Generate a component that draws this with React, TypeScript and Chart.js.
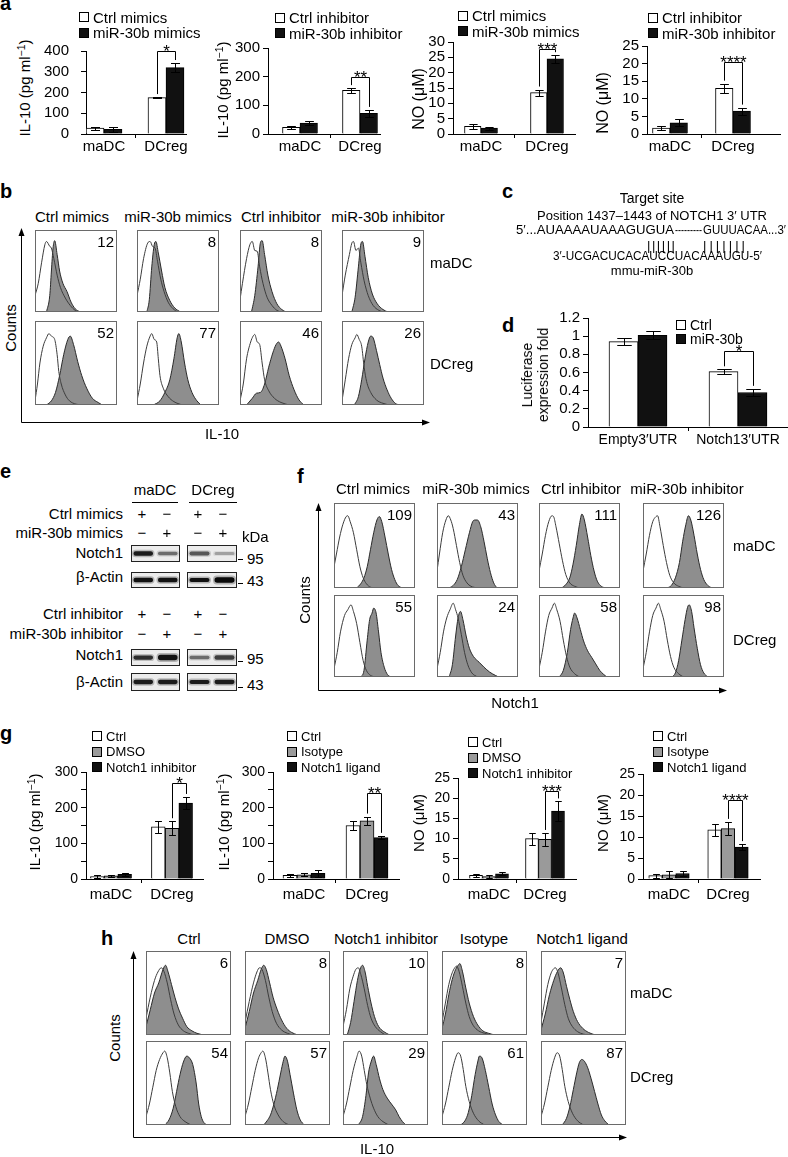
import React, { useEffect, useRef } from 'react';
import { Chart, registerables } from 'chart.js';

Chart.register(...registerables);
const FONT = '"Liberation Sans", Arial, Helvetica, sans-serif';
Chart.defaults.font.family = FONT;
Chart.defaults.color = '#000';

// ===================== DATA =====================
const GROUPS = ['maDC', 'DCreg'];
const ROWS = ['maDC', 'DCreg'];

// panel a
const A1_CTRL = [28, 175]; const A1_CTRL_ERR = [8, 3];
const A1_MIR = [22, 320]; const A1_MIR_ERR = [10, 22];
const A2_CTRL = [23, 152]; const A2_CTRL_ERR = [4, 8];
const A2_INH = [38, 72]; const A2_INH_ERR = [8, 12];
const A3_CTRL = [2.5, 13.5]; const A3_CTRL_ERR = [0.8, 1.0];
const A3_MIR = [1.9, 24.5]; const A3_MIR_ERR = [0.5, 1.2];
const A4_CTRL = [1.7, 13]; const A4_CTRL_ERR = [0.5, 1.3];
const A4_INH = [3.2, 6.5]; const A4_INH_ERR = [1.0, 1.0];

// panel d
const D_CATS = ['Empty3\u2032UTR', 'Notch13\u2032UTR'];
const D_CTRL = [0.94, 0.61]; const D_CTRL_ERR = [0.04, 0.025];
const D_MIR = [1.01, 0.38]; const D_MIR_ERR = [0.045, 0.04];

// panel g
const G1_CTRL = [7, 146]; const G1_CTRL_ERR = [5, 17];
const G1_DMSO = [9, 142]; const G1_DMSO_ERR = [3, 20];
const G1_INH = [13, 213]; const G1_INH_ERR = [4, 17];
const G2_CTRL = [10, 150]; const G2_CTRL_ERR = [4, 13];
const G2_ISO = [12, 163]; const G2_ISO_ERR = [4, 12];
const G2_LIG = [16, 116]; const G2_LIG_ERR = [9, 5];
const G3_CTRL = [0.9, 10]; const G3_CTRL_ERR = [0.4, 1.5];
const G3_DMSO = [0.6, 9.8]; const G3_DMSO_ERR = [0.3, 1.6];
const G3_INH = [1.3, 16.8]; const G3_INH_ERR = [0.4, 2.4];
const G4_CTRL = [0.8, 11.7]; const G4_CTRL_ERR = [0.5, 1.4];
const G4_ISO = [1.0, 12.0]; const G4_ISO_ERR = [0.8, 1.6];
const G4_LIG = [1.3, 7.6]; const G4_LIG_ERR = [0.6, 0.7];

// flow histograms: [x %, y %] points
type Pt = [number, number];
const B_HEADERS = ['Ctrl mimics', 'miR-30b mimics', 'Ctrl inhibitor', 'miR-30b inhibitor'];
const B_NUMS = [12, 8, 8, 9, 52, 77, 46, 26];
const B_OPEN: Pt[][] = [
  [[0, 20], [4, 35], [8, 60], [12, 82], [14, 86], [18, 80], [20, 78], [23, 65], [27, 45], [31, 30], [37, 17], [43, 8], [49, 2], [55, 0]],
  [[0, 20], [4, 40], [8, 65], [13, 84], [16, 86], [19, 80], [22, 78], [25, 62], [29, 40], [33, 25], [38, 12], [44, 4], [50, 0]],
  [[0, 15], [3, 35], [8, 65], [12, 82], [15, 86], [18, 75], [21, 74], [24, 55], [28, 35], [33, 18], [39, 8], [45, 2], [50, 0]],
  [[0, 20], [4, 45], [9, 70], [12, 84], [14, 86], [17, 75], [20, 78], [23, 60], [27, 38], [32, 20], [38, 8], [45, 2], [50, 0]],
  [[0, 5], [3, 25], [6, 50], [10, 70], [14, 80], [17, 85], [20, 82], [24, 78], [27, 60], [29, 40], [32, 25], [37, 12], [42, 5], [50, 1], [58, 0]],
  [[0, 5], [4, 25], [8, 50], [12, 70], [16, 82], [18, 85], [21, 78], [24, 75], [26, 55], [28, 35], [32, 20], [38, 10], [45, 4], [55, 0]],
  [[0, 5], [4, 25], [8, 55], [13, 75], [16, 82], [18, 84], [21, 75], [24, 72], [27, 50], [30, 30], [35, 17], [42, 8], [50, 3], [60, 0]],
  [[0, 5], [4, 30], [8, 55], [12, 72], [16, 80], [18, 84], [21, 78], [24, 70], [27, 45], [30, 28], [35, 15], [42, 6], [50, 2], [58, 0]],
];
const B_FILL: Pt[][] = [
  [[14, 0], [18, 20], [20, 50], [22, 78], [24, 87], [27, 70], [30, 50], [34, 35], [39, 25], [44, 12], [49, 4], [55, 0]],
  [[12, 0], [15, 15], [18, 55], [21, 82], [23, 86], [26, 72], [30, 50], [34, 30], [40, 14], [46, 5], [53, 0]],
  [[14, 0], [18, 20], [22, 55], [25, 85], [27, 87], [30, 70], [34, 45], [39, 25], [45, 10], [51, 3], [56, 0]],
  [[12, 0], [16, 18], [20, 55], [23, 83], [25, 86], [28, 68], [32, 42], [37, 22], [43, 10], [50, 3], [56, 0]],
  [[14, 0], [20, 5], [25, 15], [30, 35], [35, 60], [40, 78], [43, 82], [47, 72], [52, 52], [57, 35], [63, 20], [70, 8], [77, 3], [82, 0]],
  [[20, 0], [28, 5], [34, 15], [40, 30], [45, 55], [49, 80], [51, 85], [54, 75], [58, 50], [62, 30], [67, 15], [73, 5], [78, 0]],
  [[8, 0], [15, 8], [20, 14], [25, 15], [30, 25], [35, 45], [40, 62], [44, 72], [47, 75], [50, 70], [55, 55], [60, 35], [66, 18], [72, 6], [78, 0]],
  [[15, 0], [20, 10], [24, 30], [28, 55], [32, 75], [35, 82], [38, 80], [42, 65], [46, 48], [50, 32], [55, 18], [60, 8], [65, 2], [70, 0]],
];

const F_NUMS = [109, 43, 111, 126, 55, 24, 58, 98];
const F_OPEN: Pt[][] = [
  [[0, 25], [3, 40], [7, 60], [11, 75], [15, 84], [17, 85], [20, 78], [24, 65], [28, 45], [32, 25], [36, 12], [40, 5], [45, 1], [52, 0]],
  [[0, 20], [3, 40], [7, 65], [11, 80], [14, 85], [17, 80], [20, 70], [24, 50], [28, 30], [32, 15], [37, 6], [42, 2], [50, 0]],
  [[0, 20], [4, 40], [8, 62], [12, 78], [16, 85], [18, 84], [21, 72], [25, 52], [29, 32], [33, 16], [38, 6], [44, 2], [50, 0]],
  [[0, 20], [4, 40], [8, 62], [12, 78], [16, 84], [18, 85], [21, 72], [25, 50], [29, 30], [33, 15], [38, 6], [44, 2], [50, 0]],
  [[0, 10], [4, 30], [8, 55], [13, 75], [17, 82], [21, 88], [24, 80], [28, 65], [32, 42], [36, 20], [40, 8], [45, 2], [52, 0]],
  [[0, 10], [4, 30], [8, 55], [12, 72], [16, 82], [20, 90], [23, 82], [26, 72], [30, 52], [34, 30], [38, 15], [43, 5], [50, 0]],
  [[0, 10], [4, 30], [8, 55], [12, 75], [16, 84], [19, 90], [22, 82], [26, 68], [30, 45], [34, 25], [38, 12], [44, 4], [50, 0]],
  [[0, 10], [4, 30], [8, 55], [12, 75], [16, 84], [19, 90], [22, 82], [26, 68], [30, 45], [34, 25], [38, 12], [44, 4], [50, 0]],
];
const F_FILL: Pt[][] = [
  [[28, 0], [33, 5], [37, 12], [41, 25], [45, 45], [49, 65], [53, 80], [56, 84], [59, 78], [63, 60], [67, 40], [71, 22], [75, 10], [79, 3], [84, 0]],
  [[15, 0], [20, 3], [25, 10], [30, 25], [35, 45], [40, 65], [44, 78], [47, 80], [50, 80], [54, 72], [58, 55], [62, 35], [66, 18], [70, 6], [74, 0]],
  [[28, 0], [33, 4], [38, 12], [42, 28], [46, 50], [50, 75], [53, 87], [56, 80], [60, 60], [64, 38], [68, 20], [72, 8], [77, 2], [82, 0]],
  [[30, 0], [35, 3], [40, 12], [45, 30], [49, 55], [53, 75], [56, 85], [59, 80], [63, 62], [67, 40], [71, 22], [75, 10], [80, 3], [85, 0]],
  [[33, 0], [37, 8], [41, 45], [44, 70], [47, 78], [49, 84], [52, 78], [55, 55], [58, 30], [62, 12], [66, 3], [70, 0]],
  [[15, 0], [19, 15], [23, 50], [26, 72], [29, 80], [32, 70], [36, 50], [40, 35], [45, 25], [52, 18], [58, 12], [65, 6], [72, 2], [76, 0]],
  [[25, 0], [30, 8], [35, 30], [39, 58], [42, 72], [44, 78], [47, 72], [51, 58], [55, 44], [60, 32], [65, 24], [70, 16], [75, 8], [80, 3], [84, 0]],
  [[36, 0], [40, 5], [44, 20], [48, 45], [52, 70], [55, 85], [57, 88], [60, 80], [63, 60], [67, 35], [71, 15], [75, 5], [80, 0]],
];

const H_HEADERS = ['Ctrl', 'DMSO', 'Notch1 inhibitor', 'Isotype', 'Notch1 ligand'];
const H_NUMS = [6, 8, 10, 8, 7, 54, 57, 29, 61, 87];
const H_OPEN: Pt[][] = [
  [[0, 20], [5, 45], [10, 65], [14, 75], [18, 80], [21, 76], [25, 62], [29, 42], [33, 25], [38, 12], [44, 5], [50, 2], [56, 0]],
  [[0, 15], [5, 40], [10, 62], [14, 75], [17, 80], [20, 78], [24, 65], [28, 45], [32, 28], [37, 14], [43, 6], [50, 2], [56, 0]],
  [[0, 10], [4, 30], [8, 55], [12, 70], [15, 78], [18, 80], [21, 72], [25, 55], [29, 35], [33, 20], [38, 10], [44, 4], [50, 0]],
  [[0, 15], [4, 38], [8, 60], [12, 74], [15, 80], [17, 82], [20, 76], [24, 58], [28, 38], [32, 22], [37, 11], [43, 5], [50, 2], [58, 0]],
  [[0, 15], [4, 38], [8, 60], [12, 74], [15, 79], [17, 80], [20, 74], [24, 56], [28, 36], [32, 20], [37, 10], [43, 4], [50, 1], [56, 0]],
  [[0, 10], [4, 25], [8, 45], [12, 65], [16, 78], [20, 86], [22, 88], [25, 80], [28, 62], [31, 40], [35, 22], [40, 10], [46, 4], [53, 0]],
  [[0, 10], [4, 25], [8, 45], [12, 65], [16, 80], [19, 86], [21, 88], [24, 80], [27, 62], [30, 42], [34, 24], [39, 12], [45, 4], [52, 0]],
  [[0, 10], [4, 25], [8, 45], [12, 65], [16, 80], [19, 88], [22, 82], [25, 65], [28, 48], [32, 32], [36, 20], [41, 10], [47, 4], [54, 0]],
  [[0, 10], [4, 25], [8, 45], [12, 65], [16, 80], [19, 86], [22, 82], [25, 66], [28, 46], [32, 28], [37, 14], [43, 5], [50, 0]],
  [[0, 10], [4, 25], [8, 45], [12, 65], [16, 80], [19, 86], [22, 82], [25, 66], [28, 46], [32, 28], [37, 14], [43, 5], [50, 0]],
];
const H_FILL: Pt[][] = [
  [[0, 10], [5, 30], [10, 50], [15, 62], [20, 78], [23, 83], [26, 75], [30, 60], [34, 45], [38, 32], [43, 20], [48, 10], [54, 5], [60, 2], [68, 0]],
  [[0, 8], [5, 28], [10, 50], [15, 65], [19, 78], [22, 83], [25, 78], [29, 62], [33, 45], [38, 30], [43, 18], [49, 8], [55, 3], [62, 0]],
  [[5, 0], [9, 15], [13, 40], [17, 65], [20, 78], [23, 83], [26, 75], [29, 58], [33, 38], [37, 22], [42, 10], [48, 4], [55, 0]],
  [[0, 8], [4, 25], [8, 48], [12, 66], [16, 78], [19, 83], [21, 85], [24, 76], [28, 56], [32, 38], [37, 22], [42, 12], [48, 5], [55, 2], [62, 0]],
  [[0, 6], [5, 25], [10, 48], [15, 65], [19, 75], [23, 80], [26, 75], [30, 58], [34, 42], [38, 28], [43, 16], [49, 8], [56, 3], [64, 0]],
  [[22, 0], [27, 6], [32, 20], [36, 40], [40, 60], [44, 75], [48, 82], [51, 80], [55, 72], [59, 50], [62, 25], [65, 10], [68, 3], [72, 0]],
  [[22, 0], [26, 5], [30, 12], [34, 25], [38, 42], [42, 62], [45, 76], [47, 82], [50, 76], [53, 60], [57, 38], [61, 18], [65, 6], [70, 0]],
  [[18, 0], [23, 10], [27, 35], [30, 62], [33, 75], [36, 82], [39, 72], [43, 55], [47, 42], [52, 32], [57, 25], [62, 18], [66, 10], [70, 4], [74, 0]],
  [[22, 0], [27, 5], [31, 15], [35, 35], [39, 60], [42, 75], [44, 82], [47, 80], [51, 65], [55, 45], [59, 25], [63, 12], [67, 4], [72, 0]],
  [[25, 0], [30, 8], [34, 22], [38, 42], [42, 62], [45, 74], [48, 78], [51, 76], [55, 68], [59, 55], [63, 40], [67, 25], [71, 12], [75, 5], [80, 0]],
];

// panel e (western blot)
const E_MIMIC_ROWS = ['Ctrl mimics', 'miR-30b mimics'];
const E_INHIB_ROWS = ['Ctrl inhibitor', 'miR-30b inhibitor'];
const E_SIGNS_A = ['+', '\u2212', '+', '\u2212'];
const E_SIGNS_B = ['\u2212', '+', '\u2212', '+'];
const E_NOTCH_MIM = [0.9, 0.5, 0.6, 0.28];
const E_NOTCH_MIM_T = [2.6, 2.1, 2.3, 1.8];
const E_ACTIN_MIM = [0.95, 0.95, 0.95, 1.0];
const E_ACTIN_MIM_T = [2.8, 2.8, 2.6, 3.4];
const E_NOTCH_INH = [0.8, 0.95, 0.5, 0.72];
const E_NOTCH_INH_T = [2.5, 3.2, 2.0, 2.6];
const E_ACTIN_INH = [0.9, 0.9, 0.9, 0.9];
const E_ACTIN_INH_T = [2.4, 2.4, 2.3, 2.4];

// panel c sequences
const C_TARGET = ['5\u2032...AUAAAAUAAAGUGUA', '---------', 'GUUUACAA...3\u2032'];
const C_MIRNA = '3\u2032-UCGACUCACAUCCUACAAAUGU-5\u2032';
const C_PAIRS = ['||||||', '|||||||'];

// ===================== STYLE / LAYOUT =====================
const WHITE = '#ffffff';
const BLACK = '#111111';
const GRAY = '#9a9a9a';
const YW = 50, PT = 22, PR = 3, XH = 26;

type Series = { label: string; values: number[]; errs: number[]; fill: string };
type Spec = {
  x0: number; x1: number; yTop: number; yBot: number; c1: number; c2: number; barW: number;
  yMax: number; yStep: number; labelStep: number; tickFs: number; tickPad: number; catFs: number; catPad: number;
  labels: string[]; series: Series[]; sig: { cat: number; a: number; b: number; top: number; text: string };
};

function errPlugin(spec: Spec) {
  return {
    id: 'errbars',
    afterDatasetsDraw(chart: any) {
      const ctx = chart.ctx; const ys = chart.scales.y;
      const cap = Math.max(6, spec.barW * 0.5);
      ctx.save(); ctx.strokeStyle = '#000'; ctx.lineWidth = 1;
      spec.series.forEach((s, i) => {
        const meta = chart.getDatasetMeta(i);
        meta.data.forEach((el: any, j: number) => {
          const v = s.values[j]; const e = s.errs[j];
          const x = Math.round(el.x) + 0.5;
          const yt = Math.round(ys.getPixelForValue(v + e)) + 0.5;
          const yb = Math.round(ys.getPixelForValue(Math.max(0, v - e))) + 0.5;
          ctx.beginPath();
          ctx.moveTo(x, yt); ctx.lineTo(x, yb);
          ctx.moveTo(x - cap / 2, yt); ctx.lineTo(x + cap / 2, yt);
          ctx.moveTo(x - cap / 2, yb); ctx.lineTo(x + cap / 2, yb);
          ctx.stroke();
        });
      });
      ctx.restore();
    },
  };
}

function sigPlugin(spec: Spec) {
  return {
    id: 'sig',
    afterDatasetsDraw(chart: any) {
      const { cat, a, b, top, text } = spec.sig;
      const ys = chart.scales.y; const ctx = chart.ctx;
      const ea = chart.getDatasetMeta(a).data[cat]; const eb = chart.getDatasetMeta(b).data[cat];
      const sa = spec.series[a]; const sb = spec.series[b];
      const xa = Math.round(ea.x) + 0.5; const xb = Math.round(eb.x) + 0.5;
      const ya = ys.getPixelForValue(sa.values[cat] + sa.errs[cat]) - 3;
      const yb = ys.getPixelForValue(sb.values[cat] + sb.errs[cat]) - 3;
      const yt = Math.round(ys.getPixelForValue(top)) + 0.5;
      ctx.save(); ctx.strokeStyle = '#000'; ctx.lineWidth = 1;
      ctx.beginPath(); ctx.moveTo(xa, ya); ctx.lineTo(xa, yt); ctx.lineTo(xb, yt); ctx.lineTo(xb, yb); ctx.stroke();
      ctx.fillStyle = '#000'; ctx.font = '17px ' + FONT; ctx.textAlign = 'center'; ctx.textBaseline = 'alphabetic';
      ctx.fillText(text, (xa + xb) / 2, yt + 5);
      ctx.restore();
    },
  };
}

function BarChart({ spec }: { spec: Spec }) {
  const ref = useRef<HTMLCanvasElement>(null);
  const W = YW + (spec.x1 - spec.x0) + PR;
  const H = PT + (spec.yBot - spec.yTop) + XH;
  useEffect(() => {
    const p = spec.c2 - spec.c1;
    const xmin = 1 - (spec.c1 - spec.x0) / p;
    const xmax = 2 + (spec.x1 - spec.c2) / p;
    const chart = new Chart(ref.current as HTMLCanvasElement, {
      type: 'bar',
      data: {
        datasets: spec.series.map((s) => ({
          label: s.label,
          data: s.values.map((v, i) => ({ x: i + 1, y: v })),
          backgroundColor: s.fill, borderColor: '#000', borderWidth: 1, barThickness: spec.barW,
        })),
      },
      options: {
        animation: false, responsive: false, maintainAspectRatio: false, events: [],
        layout: { padding: { top: PT, right: PR, left: 0, bottom: 0 } },
        plugins: { legend: { display: false }, tooltip: { enabled: false } },
        scales: {
          x: {
            type: 'linear', min: xmin, max: xmax, offset: false,
            afterBuildTicks: (s: any) => { s.ticks = [{ value: 1 }, { value: 1.5 }, { value: 2 }]; },
            afterFit: (s: any) => { s.height = XH; s.paddingLeft = 0; s.paddingRight = 0; },
            ticks: {
              autoSkip: false, maxRotation: 0, minRotation: 0, padding: spec.catPad, font: { size: spec.catFs },
              callback: (v: any) => (v === 1 ? spec.labels[0] : v === 2 ? spec.labels[1] : ''),
            },
            grid: {
              offset: false, drawOnChartArea: false, tickLength: 4,
              color: (c: any) => (c.tick && c.tick.value === 1.5 ? '#000' : 'rgba(0,0,0,0)'),
            },
            border: { color: '#000', width: 1 },
          },
          y: {
            type: 'linear', min: 0, max: spec.yMax,
            afterFit: (s: any) => { s.width = YW; s.paddingTop = 0; s.paddingBottom = 0; },
            ticks: {
              autoSkip: false, stepSize: spec.yStep, padding: spec.tickPad, font: { size: spec.tickFs },
              callback: (v: any) => {
                const n = Number(v); const r = n / spec.labelStep;
                if (Math.abs(r - Math.round(r)) > 1e-6) return '';
                return String(parseFloat(n.toFixed(2)));
              },
            },
            grid: { drawOnChartArea: false, tickLength: 5, color: '#000' },
            border: { color: '#000', width: 1 },
          },
        },
      },
      plugins: [errPlugin(spec), sigPlugin(spec)],
    } as any);
    return () => chart.destroy();
  }, []);
  return (
    <canvas ref={ref} width={W} height={H}
      style={{ position: 'absolute', left: spec.x0 - YW, top: spec.yTop - PT, width: W, height: H }} />
  );
}

const framePlugin = {
  id: 'frame',
  afterDraw(chart: any) {
    const { ctx, width, height } = chart;
    ctx.save(); ctx.strokeStyle = '#6a6a6a'; ctx.lineWidth = 1;
    ctx.strokeRect(0.5, 0.5, width - 1, height - 1);
    ctx.restore();
  },
};

function Hist({ x, y, w, h, open, filled }: { x: number; y: number; w: number; h: number; open: Pt[]; filled: Pt[] }) {
  const ref = useRef<HTMLCanvasElement>(null);
  useEffect(() => {
    const chart = new Chart(ref.current as HTMLCanvasElement, {
      type: 'line',
      data: {
        datasets: [
          { data: open.map(([px, py]) => ({ x: px, y: py })), borderColor: '#3c3c3c', borderWidth: 1, fill: false, pointRadius: 0, cubicInterpolationMode: 'monotone' },
          { data: filled.map(([px, py]) => ({ x: px, y: py })), borderColor: '#2a2a2a', borderWidth: 1, backgroundColor: '#8e8e8e', fill: 'origin', pointRadius: 0, cubicInterpolationMode: 'monotone' },
        ],
      },
      options: {
        animation: false, responsive: false, maintainAspectRatio: false, events: [],
        layout: { padding: 0 },
        plugins: { legend: { display: false }, tooltip: { enabled: false } },
        scales: {
          x: { type: 'linear', min: 0, max: 100, display: false },
          y: { type: 'linear', min: 0, max: 100, display: false },
        },
      },
      plugins: [framePlugin],
    } as any);
    return () => chart.destroy();
  }, []);
  return <canvas ref={ref} width={w} height={h} style={{ position: 'absolute', left: x, top: y, width: w, height: h }} />;
}

const blotPlugin = {
  id: 'blotbg',
  beforeDraw(chart: any) {
    const { ctx, width, height } = chart;
    ctx.save(); ctx.fillStyle = '#ececec'; ctx.fillRect(0, 0, width, height); ctx.restore();
  },
  afterDraw(chart: any) {
    const { ctx, width, height } = chart;
    ctx.save(); ctx.strokeStyle = '#222'; ctx.lineWidth = 1; ctx.strokeRect(0.5, 0.5, width - 1, height - 1); ctx.restore();
  },
};

function Blot({ x, y, w, h, alpha, thick }: { x: number; y: number; w: number; h: number; alpha: number[]; thick: number[] }) {
  const ref = useRef<HTMLCanvasElement>(null);
  useEffect(() => {
    const chart = new Chart(ref.current as HTMLCanvasElement, {
      type: 'bar',
      data: {
        labels: ['lane 1', 'lane 2'],
        datasets: [
          { data: thick.map((t) => [5 - t / 2, 5 + t / 2]), backgroundColor: alpha.map((a) => `rgba(10,10,10,${a})`), barPercentage: 0.8, categoryPercentage: 1, grouped: false, borderRadius: 3, borderSkipped: false },
          { data: thick.map((t) => [5 - t * 0.85, 5 + t * 0.85]), backgroundColor: alpha.map((a) => `rgba(40,40,40,${a * 0.3})`), barPercentage: 0.92, categoryPercentage: 1, grouped: false, borderRadius: 4, borderSkipped: false },
        ],
      },
      options: {
        animation: false, responsive: false, maintainAspectRatio: false, events: [],
        layout: { padding: 0 },
        plugins: { legend: { display: false }, tooltip: { enabled: false } },
        scales: { x: { display: false, offset: true }, y: { display: false, min: 0, max: 10 } },
      },
      plugins: [blotPlugin],
    } as any);
    return () => chart.destroy();
  }, []);
  return <canvas ref={ref} width={w} height={h} style={{ position: 'absolute', left: x, top: y, width: w, height: h }} />;
}

// ---------- text helpers ----------
function T({ x, y, fs = 15, a = 's', b = false, c }: { x: number; y: number; fs?: number; a?: string; b?: boolean; c: any }) {
  const tx = a === 'm' ? 'translateX(-50%)' : a === 'e' ? 'translateX(-100%)' : 'none';
  return (
    <div style={{ position: 'absolute', left: x, top: y - 0.8465 * fs, fontSize: fs, lineHeight: fs + 'px', fontWeight: b ? 'bold' : 'normal', whiteSpace: 'nowrap', transform: tx, color: '#000' }}>{c}</div>
  );
}
function RT({ cx, cy, fs = 15, c, lh }: { cx: number; cy: number; fs?: number; c: any; lh?: number }) {
  return (
    <div style={{ position: 'absolute', left: cx, top: cy, fontSize: fs, lineHeight: (lh || fs) + 'px', whiteSpace: 'nowrap', textAlign: 'center', transform: 'translate(-50%,-50%) rotate(-90deg)', color: '#000' }}>{c}</div>
  );
}
function Legend({ x, cy, gap, fs, items }: { x: number; cy: number; gap: number; fs: number; items: Series[] }) {
  return (
    <>
      {items.map((it, i) => (
        <React.Fragment key={i}>
          <div style={{ position: 'absolute', left: x, top: cy + i * gap - 5, width: 8, height: 8, border: '1px solid #000', background: it.fill }} />
          <T x={x + 14} y={cy + i * gap + 0.36 * fs} fs={fs} c={it.label} />
        </React.Fragment>
      ))}
    </>
  );
}

const IL10 = <>IL-10 (pg ml<span style={{ fontSize: '0.7em', position: 'relative', top: '-0.45em' }}>{'\u22121'}</span>)</>;
const NO = 'NO (\u03bcM)';

const A_SPECS: (Spec & { title: any; tx: number; ty: number; tfs: number; lx: number; ly: number })[] = [
  { x0: 86, x1: 186, yTop: 51, yBot: 134, c1: 104, c2: 166, barW: 18, yMax: 400, yStep: 100, labelStep: 100, tickFs: 15, tickPad: 12, catFs: 15, catPad: 0, labels: GROUPS,
    series: [{ label: 'Ctrl mimics', values: A1_CTRL, errs: A1_CTRL_ERR, fill: WHITE }, { label: 'miR-30b mimics', values: A1_MIR, errs: A1_MIR_ERR, fill: BLACK }],
    sig: { cat: 1, a: 0, b: 1, top: 400, text: '*' }, title: IL10, tx: 25, ty: 88, tfs: 15, lx: 79, ly: 17 },
  { x0: 268, x1: 380, yTop: 48, yBot: 134, c1: 300, c2: 360, barW: 17.5, yMax: 300, yStep: 100, labelStep: 100, tickFs: 15, tickPad: 3, catFs: 15, catPad: 0, labels: GROUPS,
    series: [{ label: 'Ctrl inhibitor', values: A2_CTRL, errs: A2_CTRL_ERR, fill: WHITE }, { label: 'miR-30b inhibitor', values: A2_INH, errs: A2_INH_ERR, fill: BLACK }],
    sig: { cat: 1, a: 0, b: 1, top: 199, text: '**' }, title: IL10, tx: 223, ty: 90, tfs: 15, lx: 275, ly: 17.5 },
  { x0: 453, x1: 575, yTop: 42, yBot: 134, c1: 481, c2: 547, barW: 16.5, yMax: 30, yStep: 5, labelStep: 5, tickFs: 15, tickPad: 3, catFs: 15, catPad: 0, labels: GROUPS,
    series: [{ label: 'Ctrl mimics', values: A3_CTRL, errs: A3_CTRL_ERR, fill: WHITE }, { label: 'miR-30b mimics', values: A3_MIR, errs: A3_MIR_ERR, fill: BLACK }],
    sig: { cat: 1, a: 0, b: 1, top: 27.7, text: '***' }, title: NO, tx: 419, ty: 99, tfs: 16, lx: 458, ly: 15.5 },
  { x0: 647, x1: 780, yTop: 46, yBot: 134, c1: 670, c2: 733, barW: 17.5, yMax: 25, yStep: 5, labelStep: 5, tickFs: 15, tickPad: 3, catFs: 15, catPad: 0, labels: GROUPS,
    series: [{ label: 'Ctrl inhibitor', values: A4_CTRL, errs: A4_CTRL_ERR, fill: WHITE }, { label: 'miR-30b inhibitor', values: A4_INH, errs: A4_INH_ERR, fill: BLACK }],
    sig: { cat: 1, a: 0, b: 1, top: 20.5, text: '****' }, title: NO, tx: 603, ty: 103, tfs: 16, lx: 648, ly: 17.5 },
];

const D_SPEC: Spec = {
  x0: 588, x1: 787, yTop: 318, yBot: 427, c1: 638, c2: 738, barW: 29, yMax: 1.2, yStep: 0.2, labelStep: 0.2, tickFs: 15, tickPad: 3, catFs: 14, catPad: 1, labels: D_CATS,
  series: [{ label: 'Ctrl', values: D_CTRL, errs: D_CTRL_ERR, fill: WHITE }, { label: 'miR-30b', values: D_MIR, errs: D_MIR_ERR, fill: BLACK }],
  sig: { cat: 1, a: 0, b: 1, top: 0.84, text: '*' },
};

const G_SPECS: (Spec & { title: any; tx: number; ty: number; tfs: number; lx: number; ly: number })[] = [
  { x0: 86, x1: 203, yTop: 772, yBot: 879, c1: 111, c2: 172, barW: 13.7, yMax: 300, yStep: 50, labelStep: 100, tickFs: 14, tickPad: 3, catFs: 15, catPad: 3, labels: GROUPS,
    series: [{ label: 'Ctrl', values: G1_CTRL, errs: G1_CTRL_ERR, fill: WHITE }, { label: 'DMSO', values: G1_DMSO, errs: G1_DMSO_ERR, fill: GRAY }, { label: 'Notch1 inhibitor', values: G1_INH, errs: G1_INH_ERR, fill: BLACK }],
    sig: { cat: 1, a: 1, b: 2, top: 269, text: '*' }, title: IL10, tx: 35, ty: 822, tfs: 15, lx: 92, ly: 736 },
  { x0: 273, x1: 399, yTop: 772, yBot: 879, c1: 304, c2: 367, barW: 14, yMax: 300, yStep: 50, labelStep: 100, tickFs: 14, tickPad: 3, catFs: 15, catPad: 3, labels: GROUPS,
    series: [{ label: 'Ctrl', values: G2_CTRL, errs: G2_CTRL_ERR, fill: WHITE }, { label: 'Isotype', values: G2_ISO, errs: G2_ISO_ERR, fill: GRAY }, { label: 'Notch1 ligand', values: G2_LIG, errs: G2_LIG_ERR, fill: BLACK }],
    sig: { cat: 1, a: 1, b: 2, top: 241, text: '**' }, title: IL10, tx: 224, ty: 822, tfs: 15, lx: 287, ly: 736 },
  { x0: 458, x1: 576, yTop: 778, yBot: 879, c1: 489, c2: 545, barW: 13, yMax: 25, yStep: 5, labelStep: 5, tickFs: 14, tickPad: 3, catFs: 15, catPad: 3, labels: GROUPS,
    series: [{ label: 'Ctrl', values: G3_CTRL, errs: G3_CTRL_ERR, fill: WHITE }, { label: 'DMSO', values: G3_DMSO, errs: G3_DMSO_ERR, fill: GRAY }, { label: 'Notch1 inhibitor', values: G3_INH, errs: G3_INH_ERR, fill: BLACK }],
    sig: { cat: 1, a: 1, b: 2, top: 21.9, text: '***' }, title: NO, tx: 418, ty: 823, tfs: 15, lx: 468, ly: 742 },
  { x0: 643, x1: 760, yTop: 774, yBot: 879, c1: 669, c2: 728, barW: 13.5, yMax: 25, yStep: 5, labelStep: 5, tickFs: 14, tickPad: 3, catFs: 15, catPad: 3, labels: GROUPS,
    series: [{ label: 'Ctrl', values: G4_CTRL, errs: G4_CTRL_ERR, fill: WHITE }, { label: 'Isotype', values: G4_ISO, errs: G4_ISO_ERR, fill: GRAY }, { label: 'Notch1 ligand', values: G4_LIG, errs: G4_LIG_ERR, fill: BLACK }],
    sig: { cat: 1, a: 1, b: 2, top: 18.8, text: '****' }, title: NO, tx: 602, ty: 823, tfs: 15, lx: 653, ly: 736 },
];

// histogram grid layouts
const B_BOX_X = [35, 137, 240, 342]; const B_BOX_W = 82; const B_ROW_Y = [230, 321]; const B_ROW_H = [82, 84];
const B_HEAD_X = [72, 178, 281, 388];
const F_BOX_X = [334, 437, 539, 643]; const F_BOX_W = 81; const F_ROW_Y = [503, 595]; const F_ROW_H = [85, 82];
const F_HEAD_X = [373, 476, 581, 687];
const H_BOX_X = [146, 245, 343, 442, 541]; const H_BOX_W = 85; const H_ROW_Y = [951, 1041]; const H_ROW_H = [84, 84];
const H_HEAD_X = [189, 287, 386, 484, 582];

function HistGrid({ boxX, boxW, rowY, rowH, open, filled, nums, prefix }: any) {
  const n = boxX.length;
  return (
    <>
      {open.map((o: Pt[], i: number) => {
        const c = i % n; const r = Math.floor(i / n);
        return (
          <React.Fragment key={prefix + i}>
            <Hist x={boxX[c]} y={rowY[r]} w={boxW} h={rowH[r]} open={o} filled={filled[i]} />
            <T x={boxX[c] + boxW - 3} y={rowY[r] + 17} fs={15} a="e" c={String(nums[i])} />
          </React.Fragment>
        );
      })}
    </>
  );
}

function Arrow({ x, yTop, yBot, xRight }: { x: number; yTop: number; yBot: number; xRight: number }) {
  return (
    <g stroke="#000" strokeWidth={1} fill="#000">
      <line x1={x + 0.5} y1={yBot + 0.5} x2={x + 0.5} y2={yTop + 6} />
      <polygon points={`${x + 0.5},${yTop} ${x - 2.5},${yTop + 8} ${x + 3.5},${yTop + 8}`} stroke="none" />
      <line x1={x + 0.5} y1={yBot + 0.5} x2={xRight - 6} y2={yBot + 0.5} />
      <polygon points={`${xRight},${yBot + 0.5} ${xRight - 8},${yBot - 2.5} ${xRight - 8},${yBot + 3.5}`} stroke="none" />
    </g>
  );
}

export default function App() {
  const eCols = [142, 167, 198, 223];
  return (
    <div style={{ position: 'absolute', left: 0, top: 0, width: 788, height: 1157, overflow: 'hidden', background: '#fff', fontFamily: FONT }}>
      {/* panel letters */}
      <T x={0} y={10} fs={20} b c="a" />
      <T x={0} y={198} fs={20} b c="b" />
      <T x={502} y={198} fs={20} b c="c" />
      <T x={502} y={332} fs={20} b c="d" />
      <T x={0} y={478} fs={20} b c="e" />
      <T x={297} y={483} fs={20} b c="f" />
      <T x={0} y={740} fs={20} b c="g" />
      <T x={101} y={945} fs={20} b c="h" />

      {/* panel a */}
      {A_SPECS.map((s, i) => (
        <React.Fragment key={'a' + i}>
          <BarChart spec={s} />
          <RT cx={s.tx} cy={s.ty} fs={s.tfs} c={s.title} />
          <Legend x={s.lx} cy={s.ly} gap={15.5} fs={15} items={s.series} />
        </React.Fragment>
      ))}

      {/* panel b */}
      {B_HEADERS.map((h, i) => <T key={'bh' + i} x={B_HEAD_X[i]} y={222} a="m" c={h} />)}
      <HistGrid boxX={B_BOX_X} boxW={B_BOX_W} rowY={B_ROW_Y} rowH={B_ROW_H} open={B_OPEN} filled={B_FILL} nums={B_NUMS} prefix="b" />
      <T x={430} y={268} c={ROWS[0]} />
      <T x={430} y={369} c={ROWS[1]} />
      <RT cx={10} cy={328} fs={15} c="Counts" />
      <T x={222} y={439} a="m" c="IL-10" />

      {/* panel c */}
      <T x={652} y={203} fs={14} a="m" c="Target site" />

      {/* panel d */}
      <BarChart spec={D_SPEC} />
      <RT cx={535} cy={375} fs={14} lh={16} c={<>Luciferase<br />expression fold</>} />
      <Legend x={676} cy={325} gap={14} fs={14} items={D_SPEC.series} />

      {/* panel e */}
      <T x={155} y={495} a="m" c="maDC" />
      <T x={213} y={495} a="m" c="DCreg" />
      <T x={123} y={519} a="e" c={E_MIMIC_ROWS[0]} />
      <T x={123} y={538} a="e" c={E_MIMIC_ROWS[1]} />
      <T x={123} y={558} a="e" c="Notch1" />
      <T x={123} y={582} a="e" c={'\u03b2-Actin'} />
      <T x={123} y={619} a="e" c={E_INHIB_ROWS[0]} />
      <T x={123} y={639} a="e" c={E_INHIB_ROWS[1]} />
      <T x={123} y={660} a="e" c="Notch1" />
      <T x={123} y={687} a="e" c={'\u03b2-Actin'} />
      {eCols.map((cx, i) => (
        <React.Fragment key={'es' + i}>
          <T x={cx} y={519} a="m" c={E_SIGNS_A[i]} />
          <T x={cx} y={538} a="m" c={E_SIGNS_B[i]} />
          <T x={cx} y={619} a="m" c={E_SIGNS_A[i]} />
          <T x={cx} y={639} a="m" c={E_SIGNS_B[i]} />
        </React.Fragment>
      ))}
      <T x={242} y={542} c="kDa" />
      <T x={247} y={564} c="95" />
      <T x={247} y={586} c="43" />
      <T x={247} y={664} c="95" />
      <T x={247} y={690} c="43" />
      <Blot x={131} y={545} w={49} h={17} alpha={E_NOTCH_MIM.slice(0, 2)} thick={E_NOTCH_MIM_T.slice(0, 2)} />
      <Blot x={187} y={545} w={50} h={17} alpha={E_NOTCH_MIM.slice(2)} thick={E_NOTCH_MIM_T.slice(2)} />
      <Blot x={131} y={572} w={49} h={16} alpha={E_ACTIN_MIM.slice(0, 2)} thick={E_ACTIN_MIM_T.slice(0, 2)} />
      <Blot x={187} y={572} w={50} h={16} alpha={E_ACTIN_MIM.slice(2)} thick={E_ACTIN_MIM_T.slice(2)} />
      <Blot x={131} y={649} w={49} h={17} alpha={E_NOTCH_INH.slice(0, 2)} thick={E_NOTCH_INH_T.slice(0, 2)} />
      <Blot x={187} y={649} w={50} h={17} alpha={E_NOTCH_INH.slice(2)} thick={E_NOTCH_INH_T.slice(2)} />
      <Blot x={131} y={673} w={49} h={18} alpha={E_ACTIN_INH.slice(0, 2)} thick={E_ACTIN_INH_T.slice(0, 2)} />
      <Blot x={187} y={673} w={50} h={18} alpha={E_ACTIN_INH.slice(2)} thick={E_ACTIN_INH_T.slice(2)} />

      {/* panel f */}
      {B_HEADERS.map((h, i) => <T key={'fh' + i} x={F_HEAD_X[i]} y={494} a="m" c={h} />)}
      <HistGrid boxX={F_BOX_X} boxW={F_BOX_W} rowY={F_ROW_Y} rowH={F_ROW_H} open={F_OPEN} filled={F_FILL} nums={F_NUMS} prefix="f" />
      <T x={733} y={551} c={ROWS[0]} />
      <T x={733} y={645} c={ROWS[1]} />
      <RT cx={304} cy={600} fs={15} c="Counts" />
      <T x={515} y={708} a="m" c="Notch1" />

      {/* panel g */}
      {G_SPECS.map((s, i) => (
        <React.Fragment key={'g' + i}>
          <BarChart spec={s} />
          <RT cx={s.tx} cy={s.ty} fs={s.tfs} c={s.title} />
          <Legend x={s.lx} cy={s.ly} gap={15.5} fs={13} items={s.series} />
        </React.Fragment>
      ))}

      {/* panel h */}
      {H_HEADERS.map((h, i) => <T key={'hh' + i} x={H_HEAD_X[i]} y={944} a="m" c={h} />)}
      <HistGrid boxX={H_BOX_X} boxW={H_BOX_W} rowY={H_ROW_Y} rowH={H_ROW_H} open={H_OPEN} filled={H_FILL} nums={H_NUMS} prefix="h" />
      <T x={630} y={998} c={ROWS[0]} />
      <T x={630} y={1082} c={ROWS[1]} />
      <RT cx={114} cy={1038} fs={15} c="Counts" />
      <T x={377} y={1154} a="m" c="IL-10" />

      {/* vector decorations: axes arrows, blot underlines, sequences */}
      <svg width={788} height={1157} style={{ position: 'absolute', left: 0, top: 0 }}>
        <Arrow x={21} yTop={228} yBot={422} xRight={430} />
        <Arrow x={318} yTop={503} yBot={690} xRight={727} />
        <Arrow x={133} yTop={951} yBot={1137} xRight={627} />
        <g stroke="#000" strokeWidth={1}>
          <line x1={132} y1={502.5} x2={178} y2={502.5} />
          <line x1={189} y1={502.5} x2={237} y2={502.5} />
          <line x1={238} y1={559.5} x2={243} y2={559.5} />
          <line x1={238} y1={583.5} x2={243} y2={583.5} />
          <line x1={238} y1={661.5} x2={243} y2={661.5} />
          <line x1={238} y1={687.5} x2={243} y2={687.5} />
        </g>
        <g fontFamily={FONT} fill="#000">
          <text x={537} y={220} fontSize={13.5} textLength={230} lengthAdjust="spacingAndGlyphs">{'Position 1437\u20131443 of NOTCH1 3\u2032 UTR'}</text>
          <text x={516} y={234} fontSize={13} textLength={158} lengthAdjust="spacingAndGlyphs">{C_TARGET[0]}</text>
          <text x={675} y={234} fontSize={13} textLength={27} lengthAdjust="spacingAndGlyphs">{C_TARGET[1]}</text>
          <text x={703} y={234} fontSize={13} textLength={83} lengthAdjust="spacingAndGlyphs">{C_TARGET[2]}</text>
          <text x={647} y={250} fontSize={13} textLength={28} lengthAdjust="spacing">{C_PAIRS[0]}</text>
          <text x={703} y={250} fontSize={13} textLength={42} lengthAdjust="spacing">{C_PAIRS[1]}</text>
          <text x={553} y={260} fontSize={13} textLength={209} lengthAdjust="spacingAndGlyphs">{C_MIRNA}</text>
          <text x={652} y={275} fontSize={13} textAnchor="middle">mmu-miR-30b</text>
        </g>
      </svg>
    </div>
  );
}
